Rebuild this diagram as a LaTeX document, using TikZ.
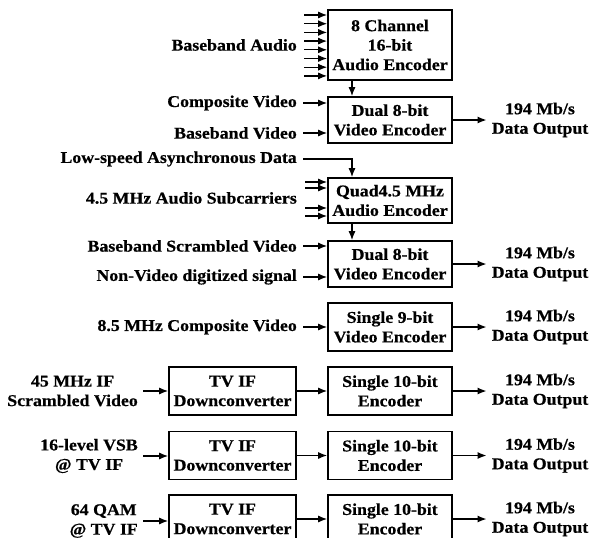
\documentclass[tikz,border=0pt]{standalone}
\usepackage{fontspec}
\setmainfont{Liberation Serif}[FakeStretch=1.08,BoldFeatures={FakeBold=0.6}]
\usetikzlibrary{arrows.meta}
\begin{document}
\begin{tikzpicture}[x=1pt,y=-1pt,
  txt/.style={font=\bfseries\fontsize{16.5}{19.5}\selectfont,align=center,inner sep=0pt},
  blk/.style={txt,draw,line width=1.6pt,minimum width=124pt},
  arr/.style={-{Latex[length=9pt,width=7pt]},line width=1.3pt}]
\useasboundingbox (0,0) rectangle (589,538);
\clip (0,0) rectangle (589,538);
% encoder column
\node[blk,minimum height=70pt] (aud) at (390,45) {8 Channel\\16-bit\\Audio Encoder};
\node[blk,minimum height=46pt] (d1) at (390,120) {Dual 8-bit\\Video Encoder};
\node[blk,minimum height=45pt] (qd) at (390,200.5) {Quad4.5 MHz\\Audio Encoder};
\node[blk,minimum height=46pt] (d2) at (390,264) {Dual 8-bit\\Video Encoder};
\node[blk,minimum height=48pt] (s9) at (390,327) {Single 9-bit\\Video Encoder};
\node[blk,minimum height=48pt] (e1) at (390,391) {Single 10-bit\\Encoder};
\node[blk,minimum height=48pt] (e2) at (390,455.5) {Single 10-bit\\Encoder};
\node[blk,minimum height=48pt] (e3) at (390,519) {Single 10-bit\\Encoder};
% downconverters
\node[blk,minimum width=127pt,minimum height=48pt] (t1) at (232.5,391) {TV IF\\Downconverter};
\node[blk,minimum width=127pt,minimum height=48pt] (t2) at (232.5,455.5) {TV IF\\Downconverter};
\node[blk,minimum width=127pt,minimum height=48pt] (t3) at (232.5,519) {TV IF\\Downconverter};
% input labels
\node[txt,anchor=east] (ba) at (297,45) {Baseband Audio};
\node[txt,anchor=east] (cv) at (297,103) {Composite Video};
\node[txt,anchor=east] (bv) at (297,133) {Baseband Video};
\node[txt,anchor=east] (ls) at (297,159) {Low-speed Asynchronous Data};
\node[txt,anchor=east] (sc) at (297,198) {4.5 MHz Audio Subcarriers};
\node[txt,anchor=east] (bs) at (297,246) {Baseband Scrambled Video};
\node[txt,anchor=east] (nv) at (297,277) {Non-Video digitized signal};
\node[txt,anchor=east] (cf) at (297,327) {8.5 MHz Composite Video};
\node[txt,anchor=east] (i1) at (138,391) {45 MHz IF\\Scrambled Video};
\node[txt,anchor=east] (i2) at (138,456) {16-level VSB\\@ TV IF};
\node[txt,anchor=east] (i3) at (138,521) {64 QAM\\@ TV IF};
% output labels
\node[txt] (o1) at (540,120) {194 Mb/s\\Data Output};
\node[txt] (o2) at (540,264) {194 Mb/s\\Data Output};
\node[txt] (o3) at (540,327) {194 Mb/s\\Data Output};
\node[txt] (o4) at (540,391) {194 Mb/s\\Data Output};
\node[txt] (o5) at (540,455.5) {194 Mb/s\\Data Output};
\node[txt] (o6) at (540,519) {194 Mb/s\\Data Output};
% audio inputs
\foreach \i in {0,...,7} {
  \coordinate (au\i) at (304,{15+\i*8.7});
  \draw[arr] (au\i) -- (au\i -| aud.west);
}
% subcarrier inputs
\foreach \i/\yy in {0/182,1/188,2/208,3/216} {
  \coordinate (sb\i) at (305,\yy);
  \draw[arr] (sb\i) -- (sb\i -| qd.west);
}
% single inputs
\foreach \n/\b in {cv/d1,bv/d1,bs/d2,nv/d2,cf/s9} {
  \draw[arr] ([xshift=6pt]\n.east) -- (\n.east -| \b.west);
}
\draw[arr] ([xshift=6pt]ls.east) -| ([xshift=-38pt]qd.north);
\draw[arr] ([xshift=-38pt]aud.south) -- ([xshift=-38pt]d1.north);
\draw[arr] ([xshift=-38pt]qd.south) -- ([xshift=-38pt]d2.north);
% IF rows
\foreach \k in {1,2,3} {
  \draw[arr] ([xshift=5pt]i\k.east) -- (i\k.east -| t\k.west);
  \draw[arr] (t\k) -- (e\k);
}
% outputs
\foreach \b/\o in {d1/o1,d2/o2,s9/o3,e1/o4,e2/o5,e3/o6} {
  \draw[arr] (\b.east) -- ([xshift=-5pt]\b.east -| \o.west);
}
\end{tikzpicture}
\end{document}
